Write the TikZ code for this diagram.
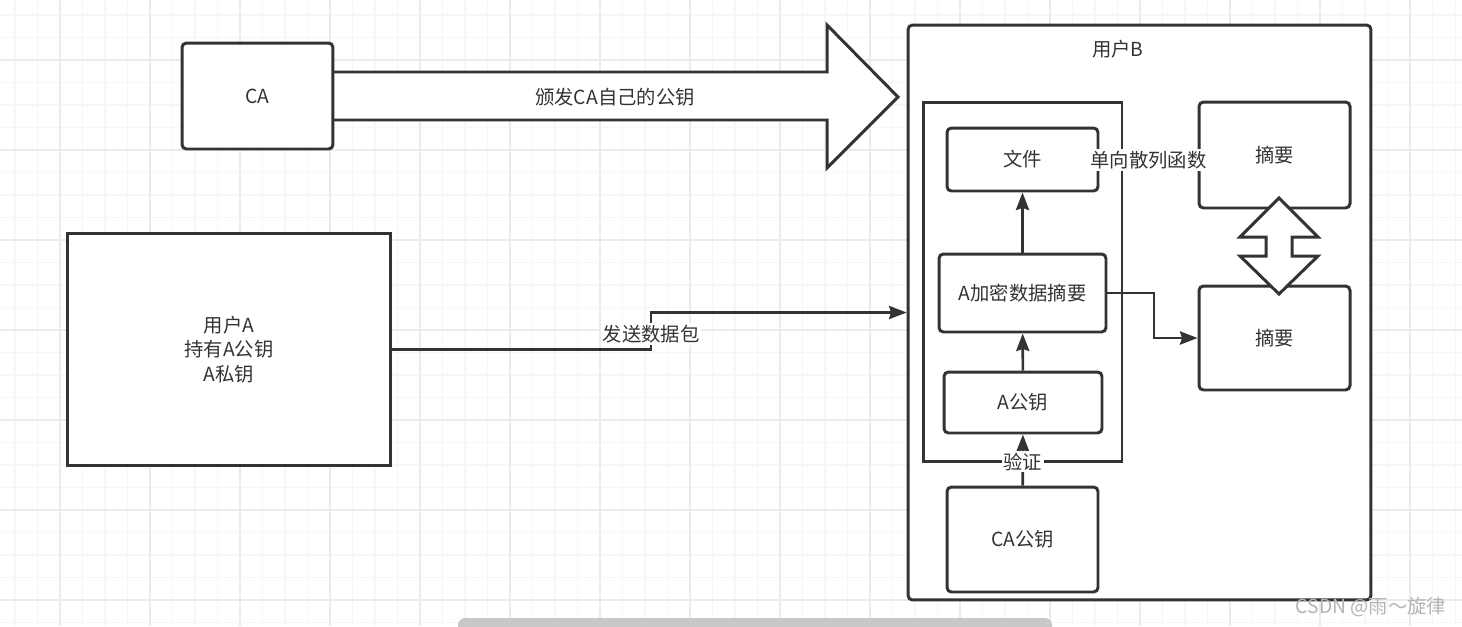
\documentclass[tikz,border=0pt]{standalone}
\usepackage{fontspec}
\usepackage{tikz}
\usetikzlibrary{arrows.meta, positioning, calc}
\newfontfamily\cjk{Noto Sans CJK SC}
\definecolor{mydark}{RGB}{51,51,51}
\definecolor{gridminor}{RGB}{246,246,246}
\definecolor{gridmajor}{RGB}{235,235,235}
\definecolor{bargray}{RGB}{200,200,200}
\definecolor{markgray}{RGB}{180,180,180}
\tikzset{
  roundbox/.style={rectangle, draw=mydark, fill=white, line width=1.7pt,
    rounded corners=2.5pt, inner sep=0pt, text=mydark,
    font=\cjk\fontsize{11}{14}\selectfont},
  sharpbox/.style={roundbox, sharp corners},
  edgelabel/.style={fill=white, inner sep=1pt, text=mydark,
    font=\cjk\fontsize{11}{14}\selectfont},
  arrow/.style={-{Stealth[length=10pt, width=7.5pt, inset=1.2pt]}, line width=1.5pt, color=mydark},
  line/.style={line width=1.5pt, color=mydark},
  bigarrow/.style={draw=mydark, fill=white, line width=1.7pt, line join=miter}
}

\begin{document}
\begin{tikzpicture}[x=0.02cm, y=-0.02cm]
  \useasboundingbox (0,0) rectangle (1462,626);

  % Background grid
  \fill[white] (0,0) rectangle (1462,626);
  \foreach \k in {0,...,64} \draw[gridminor, line width=0.6pt] ({15+22.5*\k},0) -- ({15+22.5*\k},626);
  \foreach \k in {0,...,27} \draw[gridminor, line width=0.6pt] (0,{15+22.5*\k}) -- (1462,{15+22.5*\k});
  \foreach \k in {0,...,15} \draw[gridmajor, line width=0.6pt] ({60+90*\k},0) -- ({60+90*\k},626);
  \foreach \k in {0,...,6} \draw[gridmajor, line width=0.6pt] (0,{60+90*\k}) -- (1462,{60+90*\k});

  % CA and its big arrow
  \draw[bigarrow] (333,72) -- (827,72) -- (827,25) -- (898,97) -- (827,168) -- (827,120) -- (333,120);
  \node[roundbox, minimum width=3.02cm, minimum height=2.12cm] (CA) at (257.5,96) {CA};
  \node[edgelabel, fill=none] (issue) at (615,97) {颁发CA自己的公钥};

  % User A
  \node[sharpbox, minimum width=6.48cm, minimum height=4.66cm, align=center] (userA) at (229,349.5) {用户A\\持有A公钥\\A私钥};

  % User B (outer frame and inner frame)
  \node[roundbox, minimum width=9.26cm, minimum height=11.5cm] (userB) at (1139.5,312.5) {};
  \node[text=mydark, font=\cjk\fontsize{11}{14}\selectfont] (userBlabel) at (1118,49) {用户B};
  \node[sharpbox, minimum width=3.98cm, minimum height=7.2cm] (inner) at (1022.5,282) {};

  % Boxes inside user B
  \node[roundbox, minimum width=3.02cm, minimum height=1.26cm] (file) at (1022.5,159.5) {文件};
  \node[roundbox, minimum width=3.34cm, minimum height=1.56cm] (enc) at (1022.5,293) {A加密数据摘要};
  \node[roundbox, minimum width=3.16cm, minimum height=1.22cm] (apub) at (1023,402.5) {A公钥};
  \node[roundbox, minimum width=3.02cm, minimum height=2.1cm] (capub) at (1022.5,539.5) {CA公钥};
  \node[roundbox, minimum width=3.02cm, minimum height=2.12cm] (digtop) at (1274.5,155) {\raisebox{-2pt}{摘要}};
  \node[roundbox, minimum width=3.02cm, minimum height=2.08cm] (digbot) at (1274.5,338) {摘要};

  % Sending the packet
  \coordinate (sendbend) at (651,331);
  \draw[arrow] (userA.east) -| (sendbend) |- (userB.west);
  \node[edgelabel] (sendlabel) at (651,334) {发送数据包};

  % Connectors inside user B
  \draw[arrow] (enc) -- (file);
  \draw[arrow] (apub) -- (enc);
  \draw[arrow] (capub) -- node[edgelabel, yshift=-1pt] (verify) {验证} (apub);
  \coordinate (digbend) at (1154,316);
  \draw[arrow] (enc.east) -| (digbend) |- (digbot.west);
  \draw[line] (file.east) -- node[edgelabel, yshift=-1.5pt] (hash) {单向散列函数} (digtop.west);

  % Compare the two digests
  \draw[bigarrow] (1279,198) -- (1318,237) -- (1292,237) -- (1292,256) -- (1318,256) -- (1279,294)
    -- (1240,256) -- (1266,256) -- (1266,237) -- (1240,237) -- cycle;

  % Scroll bar and watermark
  \fill[bargray, rounded corners=4pt] (458,618) rectangle (1052,636);
  \node[text=markgray, font=\cjk\fontsize{11}{13}\selectfont] (mark) at (1371,607) {CSDN @雨～旋律};
\end{tikzpicture}
\end{document}
